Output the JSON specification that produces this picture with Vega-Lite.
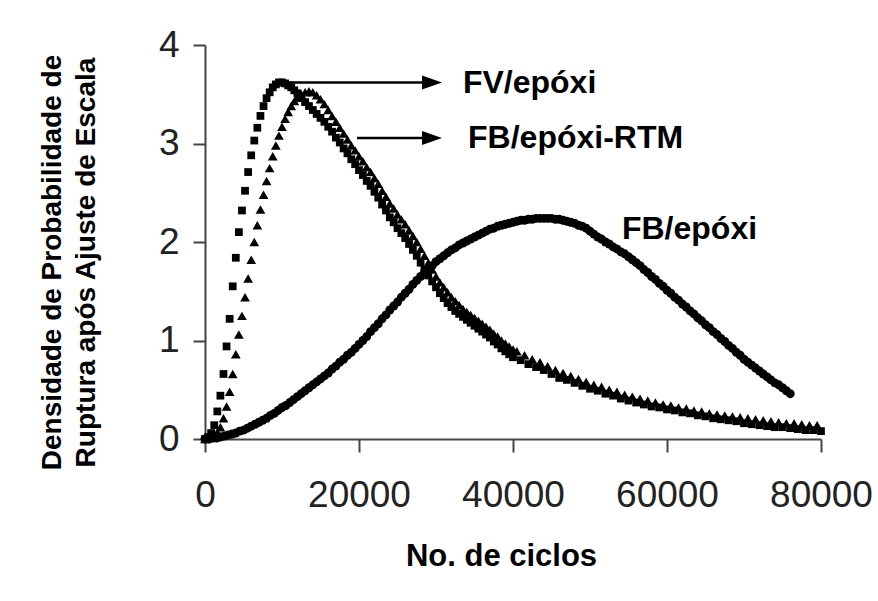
{
"$schema": "https://vega.github.io/schema/vega-lite/v6.json",
"width": 616, "height": 394,
"autosize": "none",
"padding": {"left": 205, "top": 45, "right": 57, "bottom": 162},
"background": "white",
"config": {"view": {"stroke": null}, "font": "Liberation Sans"},
"datasets": {
"fb": [{"x":0,"y":0},{"x":500,"y":0},{"x":1000,"y":0.01},{"x":1500,"y":0.01},{"x":2000,"y":0.02},{"x":2500,"y":0.03},{"x":3000,"y":0.04},{"x":3500,"y":0.05},{"x":4000,"y":0.06},{"x":4500,"y":0.08},{"x":5000,"y":0.09},{"x":5500,"y":0.11},{"x":6000,"y":0.13},{"x":6500,"y":0.15},{"x":7000,"y":0.17},{"x":7500,"y":0.19},{"x":8000,"y":0.21},{"x":8500,"y":0.24},{"x":9000,"y":0.26},{"x":9500,"y":0.29},{"x":10000,"y":0.32},{"x":10500,"y":0.34},{"x":11000,"y":0.37},{"x":11500,"y":0.40},{"x":12000,"y":0.43},{"x":12500,"y":0.46},{"x":13000,"y":0.49},{"x":13500,"y":0.52},{"x":14000,"y":0.55},{"x":14500,"y":0.58},{"x":15000,"y":0.61},{"x":15500,"y":0.64},{"x":16000,"y":0.67},{"x":16500,"y":0.71},{"x":17000,"y":0.74},{"x":17500,"y":0.78},{"x":18000,"y":0.81},{"x":18500,"y":0.85},{"x":19000,"y":0.88},{"x":19500,"y":0.92},{"x":20000,"y":0.96},{"x":20500,"y":1.00},{"x":21000,"y":1.04},{"x":21500,"y":1.09},{"x":22000,"y":1.13},{"x":22500,"y":1.17},{"x":23000,"y":1.22},{"x":23500,"y":1.26},{"x":24000,"y":1.31},{"x":24500,"y":1.35},{"x":25000,"y":1.39},{"x":25500,"y":1.44},{"x":26000,"y":1.48},{"x":26500,"y":1.52},{"x":27000,"y":1.57},{"x":27500,"y":1.61},{"x":28000,"y":1.65},{"x":28500,"y":1.69},{"x":29000,"y":1.73},{"x":29500,"y":1.76},{"x":30000,"y":1.80},{"x":30500,"y":1.83},{"x":31000,"y":1.86},{"x":31500,"y":1.89},{"x":32000,"y":1.92},{"x":32500,"y":1.94},{"x":33000,"y":1.97},{"x":33500,"y":1.99},{"x":34000,"y":2.01},{"x":34500,"y":2.03},{"x":35000,"y":2.05},{"x":35500,"y":2.07},{"x":36000,"y":2.09},{"x":36500,"y":2.11},{"x":37000,"y":2.13},{"x":37500,"y":2.14},{"x":38000,"y":2.16},{"x":38500,"y":2.17},{"x":39000,"y":2.18},{"x":39500,"y":2.19},{"x":40000,"y":2.20},{"x":40500,"y":2.21},{"x":41000,"y":2.22},{"x":41500,"y":2.22},{"x":42000,"y":2.23},{"x":42500,"y":2.23},{"x":43000,"y":2.24},{"x":43500,"y":2.24},{"x":44000,"y":2.24},{"x":44500,"y":2.24},{"x":45000,"y":2.24},{"x":45500,"y":2.23},{"x":46000,"y":2.23},{"x":46500,"y":2.22},{"x":47000,"y":2.21},{"x":47500,"y":2.20},{"x":48000,"y":2.19},{"x":48500,"y":2.17},{"x":49000,"y":2.16},{"x":49500,"y":2.14},{"x":50000,"y":2.11},{"x":50500,"y":2.08},{"x":51000,"y":2.05},{"x":51500,"y":2.03},{"x":52000,"y":2.00},{"x":52500,"y":1.98},{"x":53000,"y":1.95},{"x":53500,"y":1.93},{"x":54000,"y":1.90},{"x":54500,"y":1.88},{"x":55000,"y":1.85},{"x":55500,"y":1.82},{"x":56000,"y":1.79},{"x":56500,"y":1.76},{"x":57000,"y":1.72},{"x":57500,"y":1.69},{"x":58000,"y":1.65},{"x":58500,"y":1.62},{"x":59000,"y":1.58},{"x":59500,"y":1.55},{"x":60000,"y":1.51},{"x":60500,"y":1.48},{"x":61000,"y":1.44},{"x":61500,"y":1.41},{"x":62000,"y":1.37},{"x":62500,"y":1.34},{"x":63000,"y":1.30},{"x":63500,"y":1.27},{"x":64000,"y":1.23},{"x":64500,"y":1.20},{"x":65000,"y":1.16},{"x":65500,"y":1.13},{"x":66000,"y":1.09},{"x":66500,"y":1.06},{"x":67000,"y":1.02},{"x":67500,"y":0.99},{"x":68000,"y":0.95},{"x":68500,"y":0.92},{"x":69000,"y":0.88},{"x":69500,"y":0.85},{"x":70000,"y":0.81},{"x":70500,"y":0.78},{"x":71000,"y":0.75},{"x":71500,"y":0.72},{"x":72000,"y":0.69},{"x":72500,"y":0.66},{"x":73000,"y":0.63},{"x":73500,"y":0.60},{"x":74000,"y":0.57},{"x":74500,"y":0.55},{"x":75000,"y":0.52},{"x":75500,"y":0.49},{"x":76000,"y":0.46}],
"fv": [{"x":0,"y":0},{"x":400,"y":0.02},{"x":800,"y":0.06},{"x":1200,"y":0.14},{"x":1600,"y":0.28},{"x":2000,"y":0.44},{"x":2400,"y":0.66},{"x":2800,"y":0.94},{"x":3200,"y":1.22},{"x":3600,"y":1.55},{"x":4000,"y":1.84},{"x":4400,"y":2.10},{"x":4800,"y":2.32},{"x":5200,"y":2.52},{"x":5600,"y":2.71},{"x":6000,"y":2.88},{"x":6400,"y":3.03},{"x":6800,"y":3.16},{"x":7200,"y":3.28},{"x":7600,"y":3.38},{"x":8000,"y":3.46},{"x":8400,"y":3.52},{"x":8800,"y":3.57},{"x":9200,"y":3.60},{"x":9600,"y":3.62},{"x":10000,"y":3.62},{"x":10400,"y":3.61},{"x":10800,"y":3.59},{"x":11200,"y":3.57},{"x":11600,"y":3.54},{"x":12000,"y":3.51},{"x":12500,"y":3.46},{"x":13000,"y":3.42},{"x":13500,"y":3.38},{"x":14000,"y":3.34},{"x":14500,"y":3.30},{"x":15000,"y":3.26},{"x":15500,"y":3.22},{"x":16000,"y":3.17},{"x":16500,"y":3.12},{"x":17000,"y":3.06},{"x":17500,"y":3.01},{"x":18000,"y":2.95},{"x":18500,"y":2.90},{"x":19000,"y":2.84},{"x":19500,"y":2.79},{"x":20000,"y":2.73},{"x":20500,"y":2.68},{"x":21000,"y":2.62},{"x":21500,"y":2.57},{"x":22000,"y":2.51},{"x":22500,"y":2.45},{"x":23000,"y":2.38},{"x":23500,"y":2.32},{"x":24000,"y":2.25},{"x":24500,"y":2.20},{"x":25000,"y":2.14},{"x":25500,"y":2.09},{"x":26000,"y":2.04},{"x":26500,"y":1.98},{"x":27000,"y":1.92},{"x":27500,"y":1.86},{"x":28000,"y":1.79},{"x":28500,"y":1.72},{"x":29000,"y":1.66},{"x":29500,"y":1.60},{"x":30000,"y":1.54},{"x":30500,"y":1.48},{"x":31000,"y":1.43},{"x":31500,"y":1.38},{"x":32000,"y":1.34},{"x":32500,"y":1.30},{"x":33000,"y":1.27},{"x":33500,"y":1.24},{"x":34000,"y":1.21},{"x":34500,"y":1.18},{"x":35000,"y":1.15},{"x":35500,"y":1.12},{"x":36000,"y":1.09},{"x":36500,"y":1.06},{"x":37000,"y":1.03},{"x":37500,"y":0.99},{"x":38000,"y":0.96},{"x":38500,"y":0.92},{"x":39000,"y":0.89},{"x":39500,"y":0.86},{"x":40000,"y":0.83},{"x":41000,"y":0.80},{"x":42000,"y":0.76},{"x":43000,"y":0.73},{"x":44000,"y":0.70},{"x":45000,"y":0.66},{"x":46000,"y":0.62},{"x":47000,"y":0.60},{"x":48000,"y":0.57},{"x":49000,"y":0.54},{"x":50000,"y":0.51},{"x":51000,"y":0.49},{"x":52000,"y":0.46},{"x":53000,"y":0.44},{"x":54000,"y":0.41},{"x":55000,"y":0.39},{"x":56000,"y":0.37},{"x":57000,"y":0.35},{"x":58000,"y":0.33},{"x":59000,"y":0.32},{"x":60000,"y":0.30},{"x":61000,"y":0.29},{"x":62000,"y":0.27},{"x":63000,"y":0.26},{"x":64000,"y":0.24},{"x":65000,"y":0.23},{"x":66000,"y":0.21},{"x":67000,"y":0.20},{"x":68000,"y":0.19},{"x":69000,"y":0.18},{"x":70000,"y":0.16},{"x":71000,"y":0.15},{"x":72000,"y":0.14},{"x":73000,"y":0.13},{"x":74000,"y":0.12},{"x":75000,"y":0.12},{"x":76000,"y":0.11},{"x":77000,"y":0.10},{"x":78000,"y":0.09},{"x":79000,"y":0.09},{"x":80000,"y":0.08}],
"rtm": [{"x":0,"y":0},{"x":400,"y":0.01},{"x":800,"y":0.02},{"x":1200,"y":0.04},{"x":1600,"y":0.07},{"x":2000,"y":0.12},{"x":2400,"y":0.21},{"x":2800,"y":0.33},{"x":3200,"y":0.48},{"x":3600,"y":0.66},{"x":4000,"y":0.86},{"x":4400,"y":1.06},{"x":4800,"y":1.25},{"x":5200,"y":1.44},{"x":5600,"y":1.63},{"x":6000,"y":1.82},{"x":6400,"y":2.00},{"x":6800,"y":2.17},{"x":7200,"y":2.33},{"x":7600,"y":2.48},{"x":8000,"y":2.62},{"x":8400,"y":2.75},{"x":8800,"y":2.87},{"x":9200,"y":2.98},{"x":9600,"y":3.08},{"x":10000,"y":3.17},{"x":10400,"y":3.25},{"x":10800,"y":3.32},{"x":11200,"y":3.38},{"x":11600,"y":3.43},{"x":12000,"y":3.47},{"x":12500,"y":3.50},{"x":13000,"y":3.52},{"x":13500,"y":3.53},{"x":14000,"y":3.52},{"x":14500,"y":3.49},{"x":15000,"y":3.45},{"x":15500,"y":3.40},{"x":16000,"y":3.34},{"x":16500,"y":3.28},{"x":17000,"y":3.22},{"x":17500,"y":3.16},{"x":18000,"y":3.10},{"x":18500,"y":3.04},{"x":19000,"y":2.98},{"x":19500,"y":2.93},{"x":20000,"y":2.87},{"x":20500,"y":2.82},{"x":21000,"y":2.76},{"x":21500,"y":2.71},{"x":22000,"y":2.65},{"x":22500,"y":2.59},{"x":23000,"y":2.52},{"x":23500,"y":2.46},{"x":24000,"y":2.39},{"x":24500,"y":2.34},{"x":25000,"y":2.28},{"x":25500,"y":2.23},{"x":26000,"y":2.18},{"x":26500,"y":2.12},{"x":27000,"y":2.06},{"x":27500,"y":2.00},{"x":28000,"y":1.93},{"x":28500,"y":1.86},{"x":29000,"y":1.79},{"x":29500,"y":1.72},{"x":30000,"y":1.65},{"x":30500,"y":1.59},{"x":31000,"y":1.54},{"x":31500,"y":1.49},{"x":32000,"y":1.44},{"x":32500,"y":1.40},{"x":33000,"y":1.36},{"x":33500,"y":1.32},{"x":34000,"y":1.29},{"x":34500,"y":1.26},{"x":35000,"y":1.23},{"x":35500,"y":1.20},{"x":36000,"y":1.17},{"x":36500,"y":1.14},{"x":37000,"y":1.11},{"x":37500,"y":1.07},{"x":38000,"y":1.04},{"x":38500,"y":1.00},{"x":39000,"y":0.97},{"x":39500,"y":0.94},{"x":40000,"y":0.91},{"x":40500,"y":0.89},{"x":41500,"y":0.85},{"x":42500,"y":0.81},{"x":43500,"y":0.78},{"x":44500,"y":0.74},{"x":45500,"y":0.70},{"x":46500,"y":0.67},{"x":47500,"y":0.64},{"x":48500,"y":0.61},{"x":49500,"y":0.58},{"x":50500,"y":0.55},{"x":51500,"y":0.53},{"x":52500,"y":0.50},{"x":53500,"y":0.48},{"x":54500,"y":0.45},{"x":55500,"y":0.43},{"x":56500,"y":0.41},{"x":57500,"y":0.39},{"x":58500,"y":0.37},{"x":59500,"y":0.35},{"x":60500,"y":0.34},{"x":61500,"y":0.32},{"x":62500,"y":0.31},{"x":63500,"y":0.29},{"x":64500,"y":0.28},{"x":65500,"y":0.26},{"x":66500,"y":0.25},{"x":67500,"y":0.24},{"x":68500,"y":0.23},{"x":69500,"y":0.22},{"x":70500,"y":0.21},{"x":71500,"y":0.20},{"x":72500,"y":0.19},{"x":73500,"y":0.18},{"x":74500,"y":0.17},{"x":75500,"y":0.16},{"x":76500,"y":0.16},{"x":77500,"y":0.15},{"x":78500,"y":0.14},{"x":79500,"y":0.14}],
"arrows": [{"x":8830,"x2":30000,"y":3.62},{"x":19740,"x2":30000,"y":3.056}],
"heads": [{"x":29480,"y":3.62},{"x":29480,"y":3.056}],
"labels": [{"x":33500,"y":3.51,"t":"FV/epóxi"},{"x":34160,"y":2.95,"t":"FB/epóxi-RTM"},{"x":54150,"y":2.03,"t":"FB/epóxi"}]
},
"layer": [
{"data": {"name": "fb"},
 "mark": {"type": "point", "shape": "circle", "filled": true, "color": "black", "opacity": 1, "size": 80},
 "encoding": {
  "x": {"field": "x", "type": "quantitative", "scale": {"domain": [0, 80000], "nice": false, "zero": false},
        "axis": {"values": [0, 20000, 40000, 60000, 80000], "format": "d", "grid": false,
                 "labelFontSize": 37, "labelColor": "#222", "labelPadding": 25, "labelFont": "Liberation Sans",
                 "tickSize": 13, "tickWidth": 2, "tickColor": "#444", "domainColor": "#444", "domainWidth": 2,
                 "labelOverlap": false, "labelBound": false, "labelFlush": false,
                 "title": "No. de ciclos", "titleFontSize": 31, "titleFontWeight": "bold", "titleColor": "black",
                 "titleFont": "Liberation Sans", "titleX": 296, "titleY": 126, "titleBaseline": "alphabetic", "titleAnchor": null}},
  "y": {"field": "y", "type": "quantitative", "scale": {"domain": [0, 4], "nice": false},
        "axis": {"values": [0, 1, 2, 3, 4], "format": "d", "grid": false,
                 "labelFontSize": 37, "labelColor": "#222", "labelPadding": 14, "labelFont": "Liberation Sans",
                 "tickSize": 12, "tickWidth": 2, "tickColor": "#444", "domainColor": "#444", "domainWidth": 2,
                 "labelOverlap": false, "labelBound": false, "labelFlush": false,
                 "title": ["Densidade de Probabilidade de", "Ruptura após Ajuste de Escala"],
                 "titleFontSize": 28, "titleFontWeight": "bold", "titleColor": "black", "titleFont": "Liberation Sans",
                 "titleLineHeight": 34, "titleAngle": -90, "titleX": -145, "titleY": 217, "titleBaseline": "alphabetic", "titleAlign": "center", "titleAnchor": null}}
 }},
{"data": {"name": "fv"},
 "mark": {"type": "point", "shape": "square", "filled": true, "color": "black", "opacity": 1, "size": 60},
 "encoding": {"x": {"field": "x", "type": "quantitative"}, "y": {"field": "y", "type": "quantitative"}}},
{"data": {"name": "rtm"},
 "mark": {"type": "point", "shape": "triangle-up", "filled": true, "color": "black", "opacity": 1, "size": 95},
 "encoding": {"x": {"field": "x", "type": "quantitative"}, "y": {"field": "y", "type": "quantitative"}}},
{"data": {"name": "arrows"},
 "mark": {"type": "rule", "color": "black", "strokeWidth": 2.5},
 "encoding": {"x": {"field": "x", "type": "quantitative"}, "x2": {"field": "x2"}, "y": {"field": "y", "type": "quantitative"}}},
{"data": {"name": "heads"},
 "mark": {"type": "point", "shape": "M-1,-0.7L1,0L-1,0.7Z", "filled": true, "color": "black", "opacity": 1, "size": 400},
 "encoding": {"x": {"field": "x", "type": "quantitative"}, "y": {"field": "y", "type": "quantitative"}}},
{"data": {"name": "labels"},
 "mark": {"type": "text", "align": "left", "baseline": "alphabetic", "font": "Liberation Sans", "fontSize": 32, "fontWeight": "bold", "color": "black"},
 "encoding": {"x": {"field": "x", "type": "quantitative"}, "y": {"field": "y", "type": "quantitative"}, "text": {"field": "t"}}}
]
}
